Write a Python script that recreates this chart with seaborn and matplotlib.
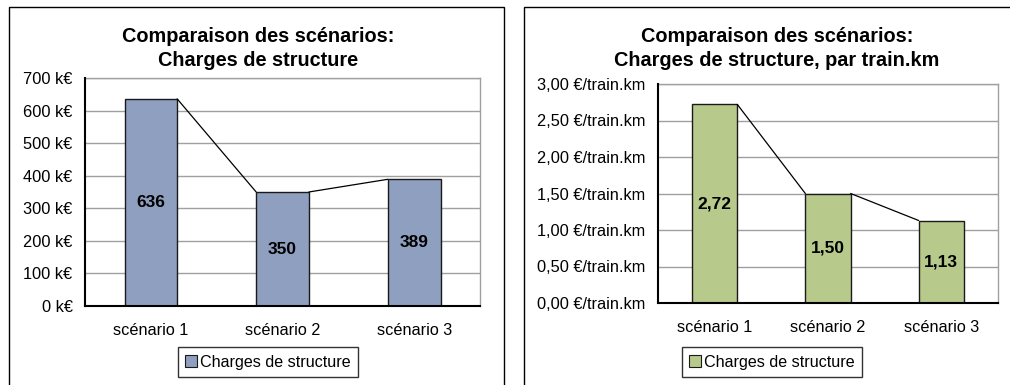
import matplotlib
matplotlib.use("Agg")
import matplotlib.pyplot as plt
import matplotlib.patches as mpatches
import numpy as np
import pandas as pd
import seaborn as sns

# Data
scenarios = ["scénario 1", "scénario 2", "scénario 3"]
charges_keur = [636, 350, 389]
charges_par_train_km = [2.72, 1.50, 1.13]
keur_ticks = [0, 100, 200, 300, 400, 500, 600, 700]
train_km_ticks = [0.0, 0.5, 1.0, 1.5, 2.0, 2.5, 3.0]
series_name = "Charges de structure"

sns.set_style("white")
plt.rcParams["font.family"] = ["Liberation Sans", "DejaVu Sans"]
plt.rcParams.update({"text.color": "black", "xtick.color": "black",
                     "ytick.color": "black", "axes.labelcolor": "black"})

W, H = 1010, 385
fig = plt.figure(figsize=(W / 100, H / 100), dpi=100)
fig.patch.set_facecolor("white")


def px_axes(x0, y0, x1, y1):
    return fig.add_axes([x0 / W, (H - y1) / H, (x1 - x0) / W, (y1 - y0) / H])


def panel_frame(x0, x1):
    fig.patches.append(mpatches.Rectangle(
        (x0 / W, -0.05), (x1 - x0) / W, (H - 7) / H + 0.05,
        transform=fig.transFigure, fill=False, edgecolor="black",
        linewidth=1.0, clip_on=False))


def draw_panel(ax, values, color, ticks, ymax, fmt_tick, fmt_val, titles, title_x, legend_x):
    df = pd.DataFrame({"scenario": scenarios, "valeur": values})
    sns.barplot(data=df, x="scenario", y="valeur", color=color, width=0.4,
                edgecolor="#1a1a1a", linewidth=1.0, saturation=1, ax=ax, zorder=3)
    bars = ax.patches
    # series lines joining the tops of adjacent bars
    for i in range(len(values) - 1):
        a, b = bars[i], bars[i + 1]
        ax.plot([a.get_x() + a.get_width(), b.get_x()], [values[i], values[i + 1]],
                color="black", linewidth=0.9, zorder=4)
    for bar, v in zip(bars, values):
        ax.text(bar.get_x() + bar.get_width() / 2, v / 2, fmt_val(v),
                ha="center", va="center", fontsize=12.5, fontweight="bold",
                color="black", zorder=5)
    ax.set_xlim(-0.5, len(values) - 0.5)
    ax.set_ylim(0, ymax)
    ax.set_yticks(ticks)
    ax.set_yticklabels([fmt_tick(t) for t in ticks], fontsize=11.8)
    ax.set_xticks(range(len(scenarios)))
    ax.set_xticklabels(scenarios, fontsize=11.7)
    ax.set_xticks([-0.5, 0.5, 1.5, 2.5], minor=True)
    ax.tick_params(axis="x", which="major", length=0, pad=12)
    ax.tick_params(axis="x", which="minor", length=5, width=1, color="black", direction="out")
    ax.tick_params(axis="y", length=4, width=1, color="black", direction="out", pad=5)
    ax.set_xlabel("")
    ax.set_ylabel("")
    ax.grid(axis="y", color="#a0a0a0", linewidth=1.0, zorder=0)
    ax.set_axisbelow(True)
    for side in ("left", "bottom"):
        ax.spines[side].set_color("black")
        ax.spines[side].set_linewidth(1.5)
        ax.spines[side].set_zorder(6)
    for side in ("top", "right"):
        ax.spines[side].set_visible(True)
        ax.spines[side].set_color("#a0a0a0")
        ax.spines[side].set_linewidth(1.0)
    for line, y in zip(titles, (37, 60)):
        fig.text(title_x / W, (H - y) / H, line, ha="center", va="center",
                 fontsize=14.3, fontweight="bold", color="black")
    handle = mpatches.Patch(facecolor=color, edgecolor="#1a1a1a", linewidth=0.8)
    leg = fig.legend([handle], [series_name], loc="center",
                     bbox_to_anchor=(legend_x / W, (H - 362) / H),
                     fontsize=11.6, frameon=True, fancybox=False, handlelength=0.7,
                     handleheight=0.7, handletextpad=0.2, borderpad=0.45, borderaxespad=0)
    leg.get_frame().set_edgecolor("black")
    leg.get_frame().set_linewidth(1.0)
    for t in leg.get_texts():
        t.set_color("black")


panel_frame(9, 504)
panel_frame(524, 1015)

ax1 = px_axes(85, 78, 480, 306)
draw_panel(ax1, charges_keur, "#8f9fc0", keur_ticks, 700,
           lambda t: f"{t:d} k€", lambda v: f"{v:d}",
           ["Comparaison des scénarios:", "Charges de structure"], 258, 268)

ax2 = px_axes(658, 84, 998, 303)
draw_panel(ax2, charges_par_train_km, "#b7c98b", train_km_ticks, 3.0,
           lambda t: f"{t:.2f}".replace(".", ",") + " €/train.km",
           lambda v: f"{v:.2f}".replace(".", ","),
           ["Comparaison des scénarios:", "Charges de structure, par train.km"], 777, 772)

fig.savefig("out.png", dpi=100, facecolor="white")
